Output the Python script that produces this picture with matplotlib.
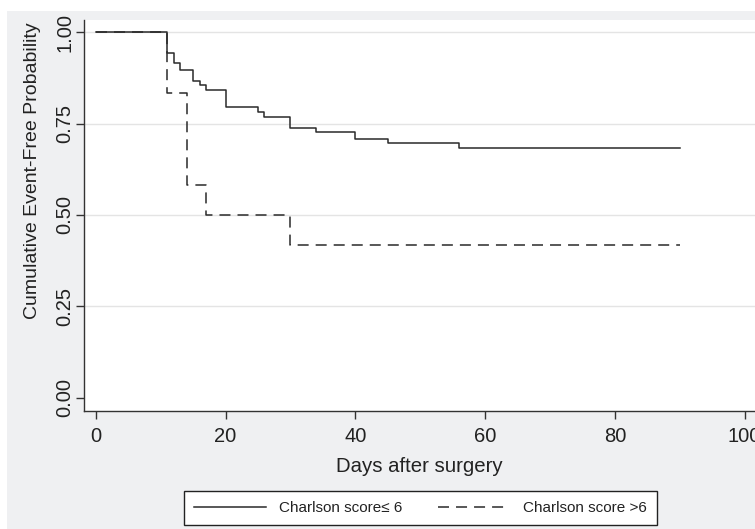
import matplotlib
matplotlib.use("Agg")
import matplotlib.pyplot as plt
from matplotlib.patches import Rectangle

# Data (Kaplan-Meier step curves)
solid_days = [0, 11, 12, 13, 15, 16, 17, 20, 25, 26, 30, 34, 40, 45, 56, 90]
solid_surv = [1.0, 0.943, 0.917, 0.897, 0.868, 0.855, 0.842, 0.795, 0.781,
              0.769, 0.739, 0.726, 0.708, 0.696, 0.683, 0.683]
dashed_days = [0, 11, 14, 17, 30, 90]
dashed_surv = [1.0, 0.833, 0.583, 0.5, 0.417, 0.417]
series_labels = ["Charlson score\u2264 6", "Charlson score >6"]
x_ticks = [0, 20, 40, 60, 80, 100]
y_ticks = [0.0, 0.25, 0.5, 0.75, 1.0]
y_tick_labels = ["0.00", "0.25", "0.50", "0.75", "1.00"]

plt.rcParams['font.family'] = ['Liberation Sans', 'DejaVu Sans']

W, H = 755, 529
fig = plt.figure(figsize=(W / 100, H / 100), dpi=100)
fig.patch.set_facecolor('white')
fig.add_artist(Rectangle((7 / W, 0), 1 - 7 / W, (H - 11) / H,
                         transform=fig.transFigure, facecolor='#eff0f2',
                         edgecolor='none', zorder=0))

left, right, bottom, top = 84.3 / W, 1.0, (H - 410.7) / H, (H - 20) / H
ax = fig.add_axes([left, bottom, right - left, top - bottom])
ax.set_facecolor('white')
ax.set_zorder(1)

line_col = '#2a2a2a'
l1, = ax.step(solid_days, solid_surv, where='post', color=line_col, lw=1.1,
              label=series_labels[0])
l2, = ax.step(dashed_days, dashed_surv, where='post', color=line_col, lw=1.1,
              dashes=(7.2, 4.6), label=series_labels[1])

ax.set_xlim(-1.76, 101.6)
ax.set_ylim(-0.036, 1.034)
ax.set_xticks(x_ticks)
ax.set_yticks(y_ticks)
ax.set_yticklabels(y_tick_labels, rotation=90, va='center')

ax.yaxis.grid(True, color='#e4e4e4', lw=1.0)
ax.yaxis.get_gridlines()[0].set_visible(False)
ax.set_axisbelow(True)

for s in ['top', 'right']:
    ax.spines[s].set_visible(False)
for s in ['left', 'bottom']:
    ax.spines[s].set_color('#333333')
    ax.spines[s].set_linewidth(1.0)

ax.tick_params(axis='both', direction='out', length=5.5, width=1.0,
               color='#333333', labelsize=14.5, labelcolor='#222222')
ax.tick_params(axis='x', pad=6)
ax.tick_params(axis='y', pad=1.5)

ax.set_xlabel("Days after surgery", fontsize=14.7, color='#222222')
ax.set_ylabel("Cumulative Event-Free Probability", fontsize=14, color='#222222')
ax.xaxis.set_label_coords(0.4993, -0.1433)
ax.xaxis.label.set_va('center')
ax.yaxis.set_label_coords((33 - 84.3) / (W * (right - left)), 0.615)
ax.yaxis.label.set_va('center')

leg = fig.legend(handles=[l1, l2], loc='center',
                 bbox_to_anchor=(420.4 / W, 1 - 508 / H), ncol=2,
                 fontsize=11, handlelength=4.7, handletextpad=0.87,
                 columnspacing=2.29, borderpad=0.65, frameon=True,
                 fancybox=False, edgecolor='#222222', facecolor='white',
                 framealpha=1.0)
leg.get_frame().set_linewidth(1.0)
for t in leg.get_texts():
    t.set_color('#222222')

fig.savefig("out.png", dpi=100, facecolor=fig.get_facecolor())
